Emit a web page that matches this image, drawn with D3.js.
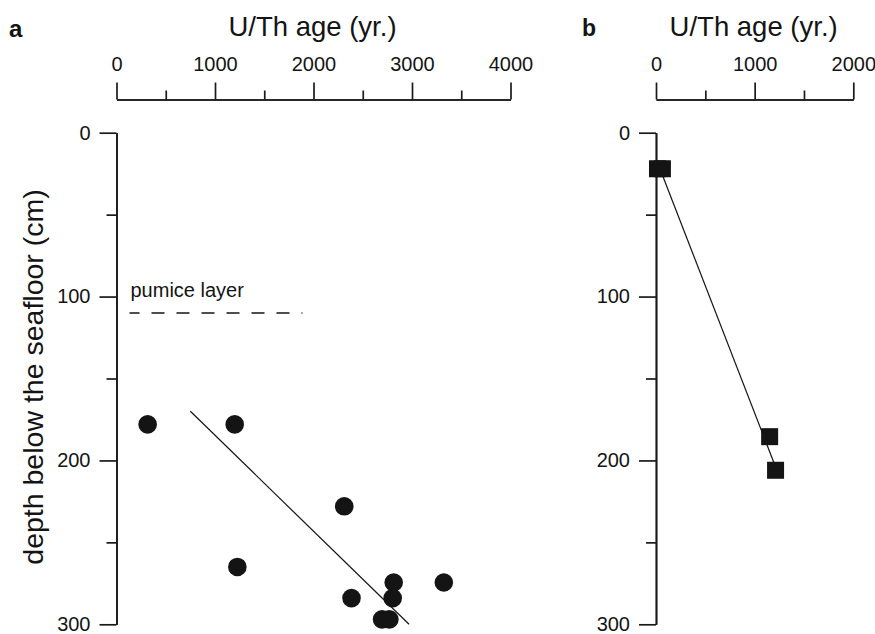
<!DOCTYPE html>
<html>
<head>
<meta charset="utf-8">
<script src="https://cdn.jsdelivr.net/npm/d3@7"></script>
<style>
  body { margin: 0; background: #fff; }
  svg { display: block; font-family: "Liberation Sans", Arial, sans-serif; }
  .axis path, .axis line { stroke: #1a1a1a; stroke-width: 1.7px; }
</style>
</head>
<body>
<svg id="chart" width="875" height="634"></svg>
<script>
  // panel a: coral samples, U/Th age vs depth
  var ageA   = [316, 1200, 2312, 1227, 2814, 3323, 2386, 2804, 2696, 2770];
  var depthA = [178, 178, 228, 265, 274.5, 274.5, 284, 284, 297, 297];
  var fitAgeA   = [750, 2970];
  var fitDepthA = [170, 300];
  var pumiceAge   = [132, 1888];
  var pumiceDepth = 110;

  // panel b
  var ageB   = [15, 65, 1152, 1212];
  var depthB = [22, 22, 185.5, 206];
  var fitAgeB   = [40, 1225];
  var fitDepthB = [22, 206];

  var ageTicksA = [0, 1000, 2000, 3000, 4000];
  var ageMinorA = [500, 1500, 2500, 3500];
  var ageTicksB = [0, 1000, 2000];
  var ageMinorB = [500, 1500];
  var depthTicks = [0, 100, 200, 300];
  var depthMinor = [50, 150, 250];

  var svg = d3.select('#chart');
  var ink = '#141414';

  var yScale = d3.scaleLinear().domain([0, 300]).range([132.7, 624.3]);
  var xA = d3.scaleLinear().domain([0, 4000]).range([116.5, 510.5]);
  var xB = d3.scaleLinear().domain([0, 2000]).range([656, 853.3]);
  var axisY = 99.5;
  var fmt = d3.format('d');

  function drawAxes(xScale, major, minor) {
    var x0 = xScale.range()[0];

    svg.append('g')
      .attr('class', 'axis')
      .attr('transform', 'translate(0,' + axisY + ')')
      .call(d3.axisTop(xScale).tickValues(major).tickSize(17).tickSizeOuter(0).tickPadding(11.5).tickFormat(fmt));

    svg.append('g')
      .attr('class', 'axis')
      .attr('transform', 'translate(0,' + axisY + ')')
      .call(d3.axisTop(xScale).tickValues(minor).tickSize(9).tickSizeOuter(0).tickFormat(''));

    svg.append('g')
      .attr('class', 'axis')
      .attr('transform', 'translate(' + x0 + ',0)')
      .call(d3.axisLeft(yScale).tickValues(depthTicks).tickSize(17).tickSizeOuter(0).tickPadding(9).tickFormat(fmt));

    svg.append('g')
      .attr('class', 'axis')
      .attr('transform', 'translate(' + x0 + ',0)')
      .call(d3.axisLeft(yScale).tickValues(depthMinor).tickSize(10).tickSizeOuter(0).tickFormat(''));

    var mid = (xScale.range()[0] + xScale.range()[1]) / 2;
    svg.append('text')
      .attr('x', mid - 1)
      .attr('y', 36)
      .attr('text-anchor', 'middle')
      .style('font-size', '27.5px')
      .attr('fill', ink)
      .text('U/Th age (yr.)');
  }

  drawAxes(xA, ageTicksA, ageMinorA);
  drawAxes(xB, ageTicksB, ageMinorB);

  svg.selectAll('.axis text')
    .attr('fill', ink)
    .style('font-family', '"Liberation Sans", Arial, sans-serif')
    .style('font-size', '20px');

  // panel letters
  svg.append('text').attr('x', 9).attr('y', 37)
    .style('font-size', '24px').style('font-weight', 'bold').attr('fill', ink).text('a');
  svg.append('text').attr('x', 582).attr('y', 36)
    .style('font-size', '23px').style('font-weight', 'bold').attr('fill', ink).text('b');

  // y label
  svg.append('text')
    .attr('transform', 'translate(43,' + 377 + ') rotate(-90)')
    .attr('text-anchor', 'middle')
    .style('font-size', '28.5px')
    .attr('fill', ink)
    .text('depth below the seafloor (cm)');

  // pumice layer
  svg.append('line')
    .attr('x1', xA(pumiceAge[0])).attr('x2', xA(pumiceAge[1]))
    .attr('y1', yScale(pumiceDepth)).attr('y2', yScale(pumiceDepth))
    .attr('stroke', ink).attr('stroke-width', 1.6)
    .attr('stroke-dasharray', '13,12').attr('stroke-dashoffset', 3);
  svg.append('text')
    .attr('x', xA(pumiceAge[0]) + 1)
    .attr('y', 297)
    .style('font-size', '20px')
    .attr('fill', ink)
    .text('pumice layer');

  var lineA = d3.line()
    .x(function (d) { return xA(d[0]); })
    .y(function (d) { return yScale(d[1]); });
  var lineB = d3.line()
    .x(function (d) { return xB(d[0]); })
    .y(function (d) { return yScale(d[1]); });

  // fit lines
  svg.append('path')
    .datum(d3.zip(fitAgeA, fitDepthA))
    .attr('d', lineA)
    .attr('fill', 'none').attr('stroke', ink).attr('stroke-width', 1.2);

  svg.append('path')
    .datum(d3.zip(fitAgeB, fitDepthB))
    .attr('d', lineB)
    .attr('fill', 'none').attr('stroke', ink).attr('stroke-width', 1.2);

  // circles
  svg.append('g').selectAll('circle')
    .data(d3.zip(ageA, depthA))
    .join('circle')
    .attr('cx', function (d) { return xA(d[0]); })
    .attr('cy', function (d) { return yScale(d[1]); })
    .attr('r', 9.3)
    .attr('fill', ink);

  // squares
  var sq = 17;
  svg.append('g').selectAll('rect')
    .data(d3.zip(ageB, depthB))
    .join('rect')
    .attr('x', function (d) { return xB(d[0]) - sq / 2; })
    .attr('y', function (d) { return yScale(d[1]) - sq / 2; })
    .attr('width', sq)
    .attr('height', sq)
    .attr('fill', ink);
</script>
</body>
</html>
